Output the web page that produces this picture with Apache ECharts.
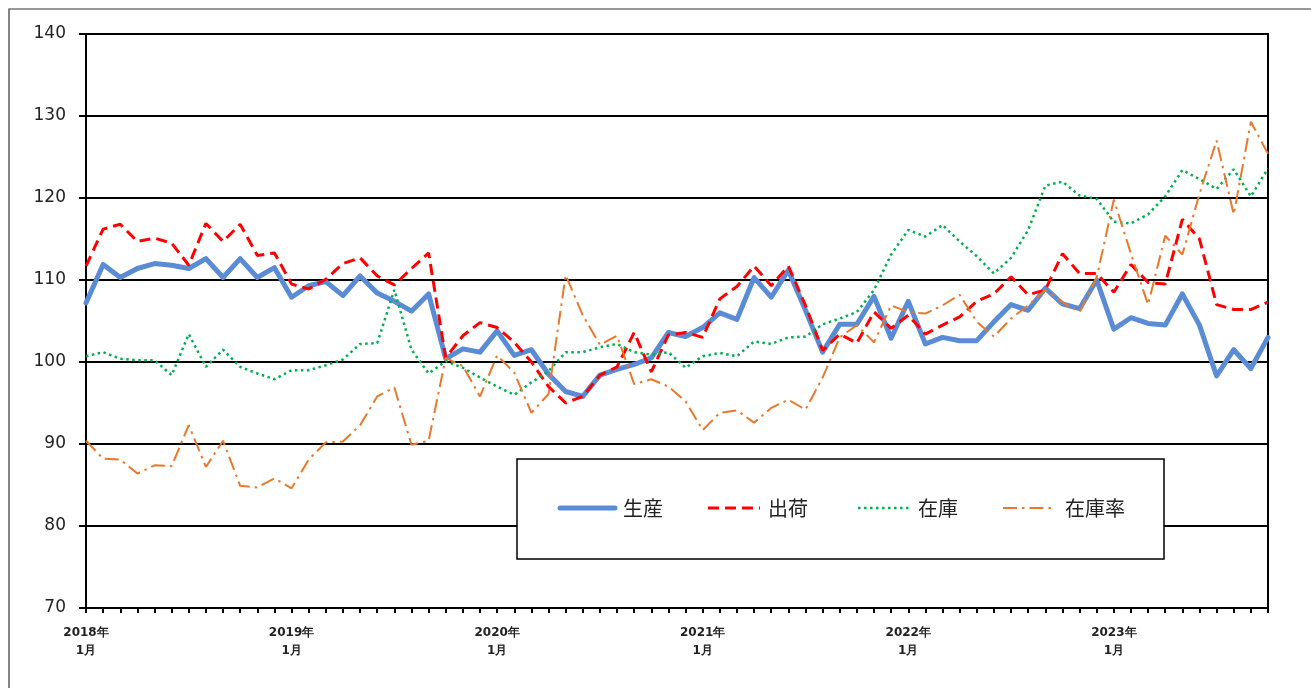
<!DOCTYPE html>
<html>
<head>
<meta charset="utf-8">
<script src="https://cdn.jsdelivr.net/npm/echarts@6/dist/echarts.min.js"></script>
<style>
html,body{margin:0;padding:0;background:#fff;}
#main{width:1311px;height:688px;}
</style>
</head>
<body>
<div id="main"></div>
<script>
// Monthly categories 2018年1月 .. 2023年10月
const years = [2018, 2019, 2020, 2021, 2022, 2023];
const lastMonth2023 = 10;
const categories = [];
years.forEach(function (y) {
  const end = (y === 2023) ? lastMonth2023 : 12;
  for (let m = 1; m <= end; m++) categories.push(y + '年' + m + '月');
});
const tickLabels = ['2018年\n1月', '2019年\n1月', '2020年\n1月', '2021年\n1月', '2022年\n1月', '2023年\n1月'];
const yTicks = [70, 80, 90, 100, 110, 120, 130, 140];

const seriesNames = ['生産', '出荷', '在庫', '在庫率'];

const production = [
  107.2, 111.9, 110.3, 111.4, 112.0, 111.8, 111.4, 112.6, 110.3, 112.6, 110.3, 111.5,
  107.9, 109.3, 109.8, 108.1, 110.5, 108.4, 107.4, 106.2, 108.3, 100.4, 101.6, 101.2,
  103.8, 100.8, 101.5, 98.5, 96.4, 95.8, 98.4, 99.1, 99.7, 100.5, 103.6, 103.1,
  104.2, 106.0, 105.2, 110.3, 107.9, 111.2, 106.3, 101.2, 104.6, 104.6, 108.0, 102.9,
  107.4, 102.2, 103.0, 102.6, 102.6, 104.9, 107.0, 106.3, 109.0, 107.1, 106.5, 110.0,
  104.0, 105.4, 104.7, 104.5, 108.3, 104.5, 98.3, 101.5, 99.2, 103.0
];
const shipments = [
  111.7, 116.2, 116.8, 114.7, 115.1, 114.5, 111.8, 116.9, 114.7, 116.8, 113.0, 113.3,
  109.5, 108.9, 110.1, 112.0, 112.7, 110.5, 109.4, 111.4, 113.3, 100.5, 103.2, 104.8,
  104.2, 102.4, 100.0, 97.0, 95.0, 95.8, 98.4, 99.4, 103.6, 98.8, 103.3, 103.6,
  103.0, 107.7, 109.2, 111.7, 109.3, 111.7, 106.9, 101.4, 103.4, 102.3, 106.1, 104.1,
  105.7, 103.4, 104.5, 105.5, 107.4, 108.3, 110.4, 108.2, 108.8, 113.2, 110.8, 110.8,
  108.5, 111.9, 109.7, 109.5, 117.4, 115.0, 107.0, 106.4, 106.4, 107.3
];
const inventory = [
  100.7, 101.2, 100.4, 100.2, 100.2, 98.4, 103.4, 99.4, 101.5, 99.4, 98.6, 97.9,
  99.0, 99.0, 99.6, 100.3, 102.2, 102.3, 108.8, 101.5, 98.6, 100.1, 99.3, 98.1,
  97.0, 96.0, 97.5, 98.9, 101.2, 101.2, 101.8, 102.2, 101.2, 100.9, 101.2, 99.3,
  100.7, 101.1, 100.7, 102.5, 102.2, 103.0, 103.1, 104.6, 105.3, 106.1, 108.8, 113.1,
  116.1, 115.3, 116.7, 114.7, 112.9, 110.8, 112.7, 116.1, 121.5, 122.0, 120.3, 119.9,
  117.1, 116.9, 118.0, 120.2, 123.4, 122.3, 121.1, 123.5, 120.2, 123.6
];
const inventoryRatio = [
  90.4, 88.2, 88.1, 86.4, 87.4, 87.3, 92.3, 87.2, 90.4, 84.9, 84.7, 85.8,
  84.6, 88.1, 90.2, 90.3, 92.3, 95.8, 96.9, 89.9, 90.4, 100.5, 99.5, 95.8,
  100.8, 98.7, 93.8, 96.1, 110.6, 105.7, 102.1, 103.2, 97.3, 97.9, 97.0, 95.2,
  91.7, 93.8, 94.1, 92.6, 94.4, 95.4, 94.2, 98.1, 103.0, 104.5, 102.4, 106.9,
  106.1, 105.9, 106.9, 108.2, 104.9, 103.1, 105.3, 106.9, 108.8, 107.3, 106.1, 110.3,
  119.8, 113.2, 107.0, 115.4, 113.1, 120.5, 127.0, 118.0, 129.3, 125.4
];

const colors = ['#5A8BD5', '#FF0000', '#00B050', '#E8782A'];
const lineStyles = [
  {width: 5, dash: null},
  {width: 3, dash: [11, 6]},
  {width: 2.5, dash: [2.5, 3.5]},
  {width: 2, dash: [14, 5, 2.5, 5]}
];

// legend drawn as graphics (box + sample lines + labels)
const legendBox = {x: 517, y: 459, w: 647, h: 100};
const legendItems = [
  {x1: 560, x2: 615, tx: 623},
  {x1: 708, x2: 760, tx: 768},
  {x1: 858, x2: 910, tx: 918},
  {x1: 1003, x2: 1052, tx: 1065}
];
const legendCy = 508;
const legendGraphics = [{
  type: 'rect', z: 50,
  shape: {x: legendBox.x, y: legendBox.y, width: legendBox.w, height: legendBox.h},
  style: {fill: '#fff', stroke: '#000', lineWidth: 1.5}
}];
legendItems.forEach(function (it, k) {
  legendGraphics.push({
    type: 'line', z: 51,
    shape: {x1: it.x1, y1: legendCy, x2: it.x2, y2: legendCy},
    style: {stroke: colors[k], lineWidth: lineStyles[k].width, lineDash: lineStyles[k].dash, lineCap: k === 0 ? 'round' : 'butt'}
  });
  legendGraphics.push({
    type: 'text', z: 51, x: it.tx, y: legendCy,
    style: {text: seriesNames[k], fill: '#222', font: '20px "Noto Sans CJK JP"', verticalAlign: 'middle', align: 'left'}
  });
});

const chart = echarts.init(document.getElementById('main'), null, {renderer: 'canvas'});
chart.setOption({
  animation: false,
  backgroundColor: '#ffffff',
  graphic: [{
    type: 'rect',
    z: -10,
    shape: {x: 9, y: 9, width: 1400, height: 800},
    style: {fill: 'none', stroke: '#333', lineWidth: 1.2}
  }].concat(legendGraphics),
  grid: {
    left: 86, right: 43, top: 34, bottom: 80,
    show: true, borderColor: '#000', borderWidth: 2, backgroundColor: 'transparent'
  },
  xAxis: {
    type: 'category',
    data: categories,
    boundaryGap: false,
    axisLine: {lineStyle: {color: '#000', width: 2}},
    axisTick: {show: true, interval: 0, length: 5, lineStyle: {color: '#000', width: 2}},
    axisLabel: {
      interval: 0,
      margin: 16,
      fontFamily: 'DejaVu Sans', fontWeight: 'bold', fontSize: 12, color: '#222', lineHeight: 18,
      formatter: function (v, i) {
        if (i % 12 === 0) return tickLabels[i / 12];
        return '';
      }
    },
    splitLine: {show: false}
  },
  yAxis: {
    type: 'value',
    min: yTicks[0], max: yTicks[yTicks.length - 1], interval: 10,
    axisLine: {show: true, lineStyle: {color: '#000', width: 2}},
    axisTick: {show: true, length: 7, lineStyle: {color: '#000', width: 2}},
    axisLabel: {fontFamily: 'DejaVu Sans', fontSize: 17, color: '#222', margin: 20},
    splitLine: {show: true, lineStyle: {color: '#000', width: 2}}
  },
  series: [
    {name: seriesNames[0], type: 'line', data: production, symbol: 'none', color: colors[0],
     lineStyle: {color: colors[0], width: lineStyles[0].width, type: 'solid', join: 'round', cap: 'round'}},
    {name: seriesNames[1], type: 'line', data: shipments, symbol: 'none', color: colors[1],
     lineStyle: {color: colors[1], width: lineStyles[1].width, type: lineStyles[1].dash}},
    {name: seriesNames[2], type: 'line', data: inventory, symbol: 'none', color: colors[2],
     lineStyle: {color: colors[2], width: lineStyles[2].width, type: lineStyles[2].dash}},
    {name: seriesNames[3], type: 'line', data: inventoryRatio, symbol: 'none', color: colors[3],
     lineStyle: {color: colors[3], width: lineStyles[3].width, type: lineStyles[3].dash}}
  ]
});
</script>
</body>
</html>
